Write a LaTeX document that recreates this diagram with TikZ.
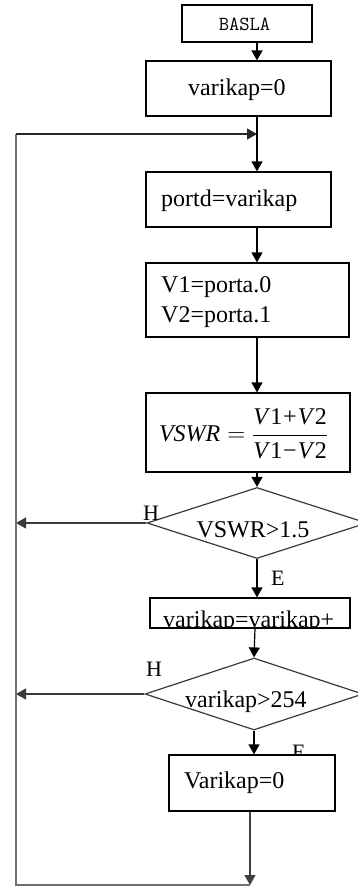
\documentclass[tikz,border=0pt]{standalone}
\usepackage{fontspec}
\setmainfont{Liberation Serif}
\usetikzlibrary{arrows.meta,shapes.geometric}
\definecolor{loopgray}{HTML}{707070}
\definecolor{edgegray}{HTML}{3A3A3A}
\tikzset{
  procbox/.style={draw=black, fill=white, rectangle, inner sep=0pt, line width=1.2pt},
  testbox/.style={draw=edgegray, diamond, inner sep=0pt, line width=1.2pt},
  txt/.style={inner sep=0pt, anchor=base west, font=\fontsize{24pt}{30pt}\selectfont},
  tag/.style={inner sep=0pt, anchor=base west, font=\fontsize{22pt}{26pt}\selectfont},
  flow/.style={line width=1.2pt, -{Triangle[length=10pt,width=11pt]}},
  loopline/.style={line width=1.4pt, draw=loopgray},
}
\newcommand{\vv}[1]{\mbox{\itshape V\/\upshape #1}}
\begin{document}
\begin{tikzpicture}[x=1pt,y=-1pt]
\useasboundingbox (0,0) rectangle (358,887);
\clip (0,0) rectangle (358,887);
\fill[white] (0,0) rectangle (358,887);

% reference points of the main line and of the return loop
\coordinate (spine) at (257,0);
\coordinate (join) at (257,134);
\coordinate (lefttop) at (16,134);
\coordinate (leftbot) at (16,885);
\coordinate (back) at (250,885);

% process boxes
\node[procbox, minimum width=130pt, minimum height=37pt] (basla) at (247,23.5) {};
\node[procbox, minimum width=185pt, minimum height=55pt] (init) at (238.5,88.5) {};
\node[procbox, minimum width=185pt, minimum height=55pt] (portd) at (238.5,199.5) {};
\node[procbox, minimum width=203pt, minimum height=74pt] (read) at (247.5,300) {};
\node[procbox, minimum width=204pt, minimum height=79pt] (vswr) at (248,432.5) {};
\node[procbox, minimum width=200pt, minimum height=30pt] (inc) at (250,613) {};

% decisions
\node[testbox, minimum width=220pt, minimum height=71pt] (dec1) at (257,523) {};
\node[testbox, minimum width=218pt, minimum height=72pt] (dec2) at (254,694) {};

% box texts
\node[inner sep=0pt, anchor=base, font=\ttfamily\fontsize{20pt}{24pt}\selectfont] (tbasla) at (244.5,30) {BASLA};
\node[txt] (tinit) at (188,95) {varikap=0};
\node[txt] (tportd) at (161,206) {portd=varikap};
\node[txt] (tv1) at (161,292.7) {V1=porta.0};
\node[txt] (tv2) at (161,322.7) {V2=porta.1};
\node[inner sep=0pt, font=\fontsize{24pt}{30pt}\selectfont] (tvswr) at (243.5,434)
  {$\mbox{\itshape VSWR} = {\displaystyle\frac{\vv{1}\mbox{\kern1pt+\kern1pt}\vv{2}}{\vv{1}\mbox{\kern1pt−\kern1pt}\vv{2}}}$};
\node[txt, anchor=base] (tdec1) at (253,537) {VSWR>1.5};
\begin{scope}
  \clip (inc.north west) rectangle (inc.south east);
  \node[txt] (tinc) at (163,627) {varikap=varikap+};
\end{scope}
\node[txt] (tdec2) at (185,707) {varikap>254};

% branch labels
\node[tag] (h1) at (143,520) {H};
\node[tag] (e1) at (271,585) {E};
\node[tag] (h2) at (146,676) {H};
\node[tag] (e2) at (292,759) {E};

% reset box drawn over the lower E label
\node[procbox, minimum width=166pt, minimum height=56pt] (reset) at (252,783) {};
\node[txt] (treset) at (184,788) {Varikap=0};

% main flow
\draw[flow] (basla.south -| spine) -- (init.north -| spine);
\draw[flow] (init.south -| spine) -- (portd.north -| spine);
\draw[flow] (portd.south -| spine) -- (read.north -| spine);
\draw[flow] (read.south -| spine) -- (vswr.north -| spine);
\draw[flow] (vswr.south -| spine) -- (dec1.north);
\draw[flow] (dec1.south) -- (inc.north -| dec1.south);
\draw[flow] (inc.south -| 255,0) -- (dec2.north);
\draw[flow] (dec2.south) -- (reset.north -| dec2.south);

% "H" branches to the return line
\draw[flow, edgegray] (dec1.west) -- (dec1.west -| lefttop);
\draw[flow, edgegray] (dec2.west) -- (dec2.west -| lefttop);

% return loop
\draw[loopline] (back) -- (leftbot) -- (lefttop);
\draw[flow, draw=black!85] (lefttop) -- (join);
\draw[flow, black!75] (reset.south -| back) -- (back);
\end{tikzpicture}
\end{document}
